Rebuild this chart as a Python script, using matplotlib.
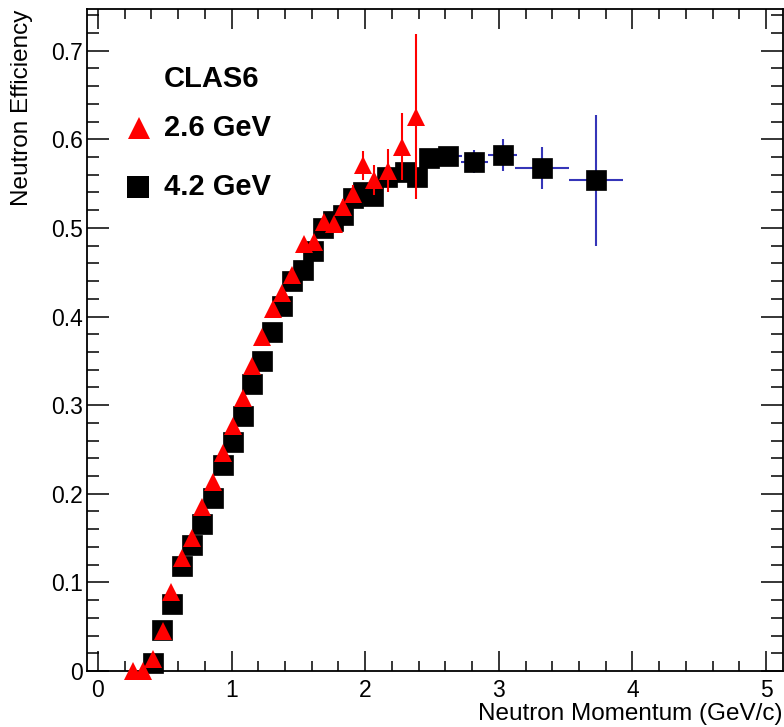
import numpy as np
import matplotlib
matplotlib.use("Agg")
import matplotlib.pyplot as plt
from matplotlib.ticker import MultipleLocator

# 2.6 GeV (red triangles)
p26 = [0.264, 0.34, 0.414, 0.484, 0.55, 0.63, 0.706, 0.776, 0.863, 0.938,
       1.01, 1.085, 1.156, 1.23, 1.312, 1.38, 1.454, 1.542, 1.617, 1.689,
       1.764, 1.836, 1.911, 1.986, 2.068, 2.168, 2.278, 2.38]
eff26 = [0.0, 0.0, 0.013, 0.045, 0.089, 0.1275, 0.150, 0.185, 0.213, 0.246,
         0.277, 0.3085, 0.3446, 0.3766, 0.409, 0.427, 0.447, 0.4817, 0.4836, 0.5066,
         0.5048, 0.5235, 0.5385, 0.5705, 0.554, 0.5645, 0.5918, 0.6256]
err26 = [0.002, 0.002, 0.003, 0.003, 0.004, 0.004, 0.004, 0.005, 0.005, 0.005,
         0.005, 0.005, 0.006, 0.006, 0.006, 0.006, 0.007, 0.007, 0.007, 0.008,
         0.008, 0.009, 0.010, 0.016, 0.017, 0.024, 0.038, 0.093]

# 4.2 GeV (black squares)
p42 = [0.41, 0.48, 0.556, 0.63, 0.706, 0.776, 0.863, 0.938, 1.01, 1.085,
       1.156, 1.23, 1.306, 1.381, 1.453, 1.534, 1.609, 1.684, 1.76, 1.834,
       1.909, 1.984, 2.058, 2.166, 2.298, 2.385, 2.476, 2.622, 2.816, 3.028,
       3.323, 3.729]
eff42 = [0.009, 0.046, 0.076, 0.118, 0.142, 0.166, 0.1956, 0.233, 0.258, 0.288,
         0.324, 0.3495, 0.3826, 0.412, 0.440, 0.453, 0.474, 0.4996, 0.508, 0.515,
         0.534, 0.54, 0.5365, 0.557, 0.563, 0.557, 0.5787, 0.581, 0.5748, 0.5827,
         0.5677, 0.5536]
xerr42 = [0.0375] * 26 + [0.05, 0.1, 0.1, 0.11, 0.2, 0.2]
yerr42 = [0.002, 0.002, 0.003, 0.003, 0.003, 0.003, 0.004, 0.004, 0.004, 0.004,
          0.004, 0.004, 0.004, 0.005, 0.005, 0.005, 0.005, 0.005, 0.005, 0.005,
          0.006, 0.006, 0.006, 0.006, 0.007, 0.007, 0.007, 0.008, 0.013, 0.018,
          0.024, 0.074]

plt.rcParams['font.family'] = ['Liberation Sans', 'DejaVu Sans']

fig = plt.figure(figsize=(7.84, 7.27), dpi=100)
ax = fig.add_axes([87 / 784, 1 - 671 / 727, (783 - 87) / 784, (671 - 9) / 727])

blue = '#3535b8'
ax.errorbar(p42, eff42, xerr=xerr42, yerr=yerr42, fmt='s', color='black',
            ms=14, mec='black', mew=0.5, ecolor=blue, elinewidth=1.5,
            capsize=0, zorder=3, clip_on=False)
ax.errorbar(p26, eff26, yerr=err26, fmt='^', color='red', ms=13.5, mew=0,
            ecolor='red', elinewidth=1.5, capsize=0, zorder=4, clip_on=False)

ax.set_xlim(-0.082, 5.127)
ax.set_ylim(0, 0.747)
ax.xaxis.set_major_locator(MultipleLocator(1))
ax.xaxis.set_minor_locator(MultipleLocator(0.2))
ax.yaxis.set_major_locator(MultipleLocator(0.1))
ax.yaxis.set_minor_locator(MultipleLocator(0.02))
ax.tick_params(which='both', direction='in', top=True, right=True,
               labelsize=16.5, width=1.1)
ax.tick_params(axis='x', which='major', length=14.5, pad=6)
ax.tick_params(axis='x', which='minor', length=7.5)
ax.tick_params(axis='y', which='major', length=16, pad=3)
ax.tick_params(axis='y', which='minor', length=8.5)
ax.set_yticks([0, 0.1, 0.2, 0.3, 0.4, 0.5, 0.6, 0.7])
ax.set_yticklabels(['0', '0.1', '0.2', '0.3', '0.4', '0.5', '0.6', '0.7'])
for s in ax.spines.values():
    s.set_linewidth(1.3)

fig.text(22 / 784, 1 - 10 / 727, 'Neutron Efficiency', rotation=90,
         ha='center', va='top', fontsize=17.5)
fig.text(783 / 784, 1 - 714 / 727, 'Neutron Momentum (GeV/c)',
         ha='right', va='center', fontsize=17.5)

# legend block
fig.text(164 / 784, 1 - 79 / 727, 'CLAS6', fontsize=21, fontweight='bold',
         ha='left', va='center')
fig.text(164 / 784, 1 - 128 / 727, '2.6 GeV', fontsize=21, fontweight='bold',
         ha='left', va='center')
fig.text(164 / 784, 1 - 187 / 727, '4.2 GeV', fontsize=21, fontweight='bold',
         ha='left', va='center')
fig.lines.append(plt.Line2D([138.5 / 784], [1 - 128 / 727], marker='^', ms=15.5,
                            color='red', mew=0, transform=fig.transFigure))
fig.lines.append(plt.Line2D([138 / 784], [1 - 187 / 727], marker='s', ms=15.5,
                            color='black', mew=0, transform=fig.transFigure))

fig.savefig('out.png', dpi=100)
